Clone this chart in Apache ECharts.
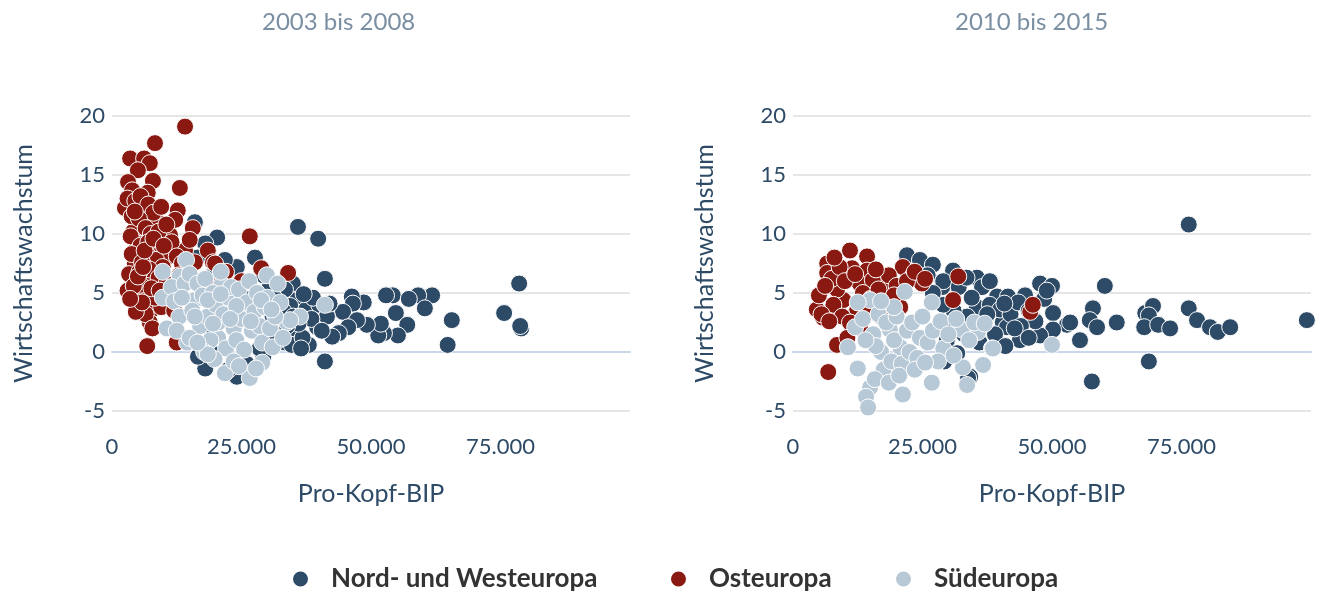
<!DOCTYPE html>
<html><head><meta charset="utf-8">
<script src="https://cdn.jsdelivr.net/npm/echarts@6/dist/echarts.min.js"></script>
<style>html,body{margin:0;padding:0;background:#fff}#c{width:1323px;height:594px}</style>
</head><body><div id="c"></div>
<script>
const FONT = "'Source Sans Pro', Lato, 'Noto Sans', sans-serif";
const panelTitles = ['2003 bis 2008', '2010 bis 2015'];
const seriesNames = ['Nord- und Westeuropa', 'Osteuropa', 'Südeuropa'];
const xTicks = [0, 25000, 50000, 75000, 100000];
const yTicks = [-5, 0, 5, 10, 15, 20];

// 2003 bis 2008: [Pro-Kopf-BIP, Wirtschaftswachstum]
const nw1 = [[35900,10.6],[39800,9.6],[41100,6.2],[41100,-0.8],[78600,5.8],[75700,3.3],[79000,2.0],[78800,2.2],[65600,2.7],[64800,0.6],
[61800,4.8],[59100,4.8],[54200,4.8],[52900,4.8],[57300,4.5],[60400,3.7],[54800,3.3],[57000,2.3],[55200,1.4],[52500,1.6],[51400,1.4],[51900,2.4],[49200,2.3],[48600,4.2],[46300,4.7],[46500,4.1],[44600,3.4],[47300,2.7],[45600,2.1],[43800,1.6],[42500,1.3],[38000,0.6],[39600,2.1],[35900,4.4],[34900,5.8],[35700,4.4],[33400,5.3],[34700,1.9],[33400,0.8],[32000,1.0],[29200,-0.4],[24100,-2.1],[18000,-1.4],[16600,-0.4],[20300,9.7],[16000,11.0],[27600,8.0],[24100,7.2],[21800,7.8],[18000,9.2],
[36300,3.3],[34400,3.9],[34400,1.9],[34700,0.6],[32400,2.5],[30500,5.7],[29200,6.5],[37500,3.6],[40000,4.0],[41500,3.0],[38500,2.8],[36800,1.2],[31000,3.0],[30000,1.5],[28500,0.3],[26000,-1.0],[22500,-1.5],[20000,0.2],[19000,2.0],[17500,5.5],[16500,8.0],[19500,6.5],[23000,5.0],[26500,4.5],[31500,4.5],[33000,3.5],[38800,4.6],[36000,2.4],[40500,1.8],[42000,4.1],[35000,3.0],[37000,4.9],[33800,2.2],[36500,0.3]];
const ost1 = [[14100,19.1],[8300,17.7],[3500,16.4],[6200,16.4],[7300,16.0],[5000,15.4],[13100,13.9],[3100,14.4],[7900,14.5],[3900,13.7],[6900,13.5],[2500,12.2],[6000,12.0],[12700,12.0],[12200,11.2],[8900,11.0],[15600,10.5],[5800,10.8],[4100,10.2],[11200,9.9],[4800,9.2],[8900,8.9],[6900,8.2],[10600,8.0],[18500,8.6],[19500,7.6],[26600,9.8],[4400,7.5],[4400,6.1],[6900,6.1],[5000,5.3],[4100,4.8],[8300,5.0],[7700,3.6],[7300,2.5],[6800,0.5],[12500,0.8],[28800,7.1],[34000,6.7],[14100,8.6],[16000,7.6],
[3000,13.0],[4500,12.8],[5500,13.2],[7000,12.5],[8000,11.8],[9500,12.3],[3800,11.5],[5200,11.3],[6500,10.5],[7500,10.0],[9000,10.2],[10500,10.8],[3600,9.8],[5500,9.0],[7000,9.3],[8500,7.8],[9800,7.2],[11500,9.3],[12500,8.1],[13500,7.5],[15000,9.5],[3800,8.3],[5800,7.6],[7200,7.0],[9000,6.3],[10500,5.8],[3300,6.6],[5300,6.8],[6200,4.5],[8000,4.2],[9500,3.8],[4700,4.0],[6500,3.2],[11000,4.6],[12000,3.5],[7800,2.0],[5500,5.7],[3000,5.2],[13000,6.5],[17000,6.0],[20000,5.5],[22000,6.8],[25000,6.0],[8300,4.6],[19900,7.5],
[4200,5.6],[5000,6.4],[6000,7.2],[7600,5.4],[9200,5.2],[4600,3.4],[5800,4.2],[3500,4.5],[6300,8.6],[8000,9.6],[4400,11.9],[10000,9.0]];
const sued1 = [[14300,7.8],[9800,6.8],[13100,6.4],[9800,4.6],[10600,2.0],[14500,0.8],[26600,-2.2],[21800,-1.8],[29000,-0.9],[29900,6.5],[32000,5.8],[33800,2.5],[25100,3.6],[21200,5.7],[16000,4.4],[20500,1.2],[41100,4.0],[36300,3.0],[34400,2.7],
[11500,5.5],[12000,4.3],[13000,3.0],[14000,5.8],[15000,6.6],[15500,3.5],[16500,5.8],[17000,2.2],[17500,4.8],[18000,6.2],[18500,3.0],[19000,1.0],[19500,5.0],[20000,4.0],[20500,2.5],[21000,6.8],[21500,3.2],[22000,0.3],[22500,4.6],[23000,5.5],[23500,2.0],[24000,1.0],[24500,5.3],[25000,2.8],[25500,0.2],[26000,4.2],[26500,6.0],[27000,1.8],[27500,3.4],[28000,5.0],[28500,2.2],[29000,0.8],[29500,3.8],[30000,4.6],[30500,2.0],[31000,0.4],[31500,3.0],[32500,4.2],[33000,1.2],[17800,0.0],[19800,-0.6],[23500,-0.8],[27800,-1.4],[24500,-1.2],[12500,1.8],[15000,1.2],[18500,-0.2],[16500,0.8],
[13500,4.6],[16000,3.0],[18500,4.4],[21000,4.9],[24000,3.9],[26800,2.6],[28800,4.4],[30800,3.6],[22800,2.8],[19500,2.4]];

// 2010 bis 2015
const nw2 = [[22000,8.2],[24500,7.8],[27000,7.4],[30900,6.9],[35500,6.3],[28800,5.5],[35500,3.8],[39400,4.7],[40500,2.5],[33600,3.0],[34200,-2.1],[29700,1.0],[31700,-0.1],
[76400,10.8],[60200,5.6],[47700,5.8],[50000,5.6],[41500,4.7],[44800,4.8],[50200,3.3],[57900,3.7],[57300,2.7],[58700,2.1],[62500,2.5],[52900,2.3],[55400,1.0],[50200,1.9],[47700,1.4],[43800,1.0],[68000,3.3],[69500,3.9],[68700,3.1],[67800,2.1],[70500,2.3],[72800,2.0],[76400,3.7],[78000,2.7],[80500,2.1],[82000,1.7],[84400,2.1],[99200,2.7],[68700,-0.8],[57700,-2.5],[41300,2.1],
[26000,6.5],[29000,6.0],[32000,5.5],[33500,6.3],[36500,5.5],[38000,4.0],[40000,3.6],[42000,3.2],[43500,4.2],[45500,3.5],[46800,2.6],[48500,4.5],[37000,2.6],[39000,1.5],[41000,0.5],[36000,0.8],[33000,1.5],[31000,3.5],[29000,4.0],[27000,5.0],[38000,6.0],[44000,2.2],[49000,5.2],[53500,2.5],[45500,1.2],[29200,-0.8],[33800,-2.2],
[34500,4.6],[37500,3.2],[40800,4.1],[42800,2.0],[35200,2.0],[30500,2.4]];
const ost2 = [[11000,8.6],[14300,8.1],[6600,7.5],[11400,7.1],[6600,6.7],[14300,6.9],[21200,7.2],[23200,6.5],[24900,5.8],[17800,5.8],[31900,6.4],[30900,4.4],[5800,2.9],[4600,3.6],[8500,0.6],[6800,-1.7],[9700,4.4],[12400,3.6],[12900,5.8],[8500,5.3],[15400,6.1],[20700,3.8],[45800,3.4],[46300,4.0],
[5000,4.8],[7500,6.2],[9000,7.2],[10000,6.0],[12000,6.6],[13500,5.0],[15000,4.5],[16500,5.3],[18500,6.5],[20000,5.6],[22000,6.0],[7800,4.0],[9500,3.0],[11000,2.5],[13000,2.0],[10500,1.2],[6200,5.6],[8000,8.0],[16000,7.0],[19500,4.8],[23500,6.8],[25500,6.2],[5500,3.2],[7000,2.6],[14000,3.9],[17000,3.0]];
const sued2 = [[21600,5.1],[14900,4.4],[12500,4.2],[26800,4.2],[12000,2.1],[10600,0.4],[12500,-1.4],[14900,-3.0],[14100,-3.8],[14500,-4.7],[21200,-3.6],[26800,-2.6],[33600,-2.8],[32800,-1.3],[36700,-1.1],[38400,0.3],[35700,1.7],[32600,1.9],[29000,0.3],[20700,0.4],[18700,1.9],[50000,0.6],[38600,0.3],
[13500,2.8],[15500,1.5],[16500,3.2],[17000,0.0],[17500,-1.5],[18000,2.5],[19000,-0.8],[19500,1.0],[20000,3.0],[21000,-1.0],[22000,1.8],[22500,0.0],[23000,2.5],[24000,-0.5],[24500,1.2],[25000,3.0],[26000,0.8],[27000,1.8],[28000,-0.8],[28500,2.6],[30000,1.5],[31000,-0.3],[31500,2.8],[34000,1.0],[35000,2.5],[37000,2.4],[15800,-2.3],[18500,-2.6],[16000,0.5],[14000,1.0],[20500,-2.0],[23500,-1.5],[25500,-0.9],[19500,3.8],[17000,4.3]];

const colors = ['#2d4a66', '#8a1a11', '#b7c8d6'];
const axisColor = '#2d4a66';

function fmtX(v) {
  if (v === xTicks[xTicks.length - 1]) return '';
  return String(v).replace(/\B(?=(\d{3})+(?!\d))/g, '.');
}

const grids = [
  {left: 112, top: 116, width: 518, height: 295},
  {left: 793, top: 116, width: 518, height: 295}
];
const xAxes = grids.map((g, i) => ({
  gridIndex: i, type: 'value', min: xTicks[0], max: xTicks[xTicks.length - 1], interval: 25000,
  name: 'Pro-Kopf-BIP', nameLocation: 'middle', nameGap: 70,
  nameTextStyle: {fontFamily: FONT, fontSize: 25, color: axisColor},
  axisLine: {show: true, lineStyle: {color: '#ccd6eb', width: 2}},
  axisTick: {show: false}, splitLine: {show: false},
  axisLabel: {margin: 25, fontFamily: FONT, fontSize: 22, color: axisColor, formatter: fmtX}
}));
const yAxes = grids.map((g, i) => ({
  gridIndex: i, type: 'value', min: yTicks[0], max: yTicks[yTicks.length - 1], interval: 5,
  name: 'Wirtschaftswachstum', nameLocation: 'middle', nameGap: 76,
  nameTextStyle: {fontFamily: FONT, fontSize: 25, color: axisColor},
  axisLine: {show: false}, axisTick: {show: false},
  splitLine: {show: true, lineStyle: {color: '#e6e6e6', width: 2}},
  axisLabel: {margin: 7, fontFamily: FONT, fontSize: 22, color: axisColor}
}));

const panels = [[nw1, ost1, sued1], [nw2, ost2, sued2]];
const series = [];
panels.forEach((p, pi) => {
  p.forEach((d, si) => {
    series.push({
      name: seriesNames[si], type: 'scatter', xAxisIndex: pi, yAxisIndex: pi,
      data: d, symbol: 'circle', symbolSize: 17,
      itemStyle: {color: colors[si], borderColor: '#ffffff', borderWidth: 1, opacity: 1},
      emphasis: {disabled: true}
    });
  });
});

const legendLefts = [291, 669, 894];
const legends = seriesNames.map((n, i) => ({
  data: [n], left: legendLefts[i], top: 566, padding: 0, itemWidth: 17, itemHeight: 17, icon: 'circle',
  selectedMode: false,
  textStyle: {fontFamily: FONT, fontSize: 26, fontWeight: 'bold', color: '#333333', padding: [0, 0, 0, 17]}
}));

const chart = echarts.init(document.getElementById('c'), null, {renderer: 'canvas'});
chart.setOption({
  animation: false,
  backgroundColor: '#ffffff',
  color: colors,
  title: [
    {text: panelTitles[0], left: 257, top: 5, textStyle: {fontFamily: FONT, fontSize: 24, fontWeight: 'normal', color: '#7b8fa3'}},
    {text: panelTitles[1], left: 950, top: 5, textStyle: {fontFamily: FONT, fontSize: 24, fontWeight: 'normal', color: '#7b8fa3'}}
  ],
  legend: legends,
  grid: grids, xAxis: xAxes, yAxis: yAxes, series: series
});
</script></body></html>
